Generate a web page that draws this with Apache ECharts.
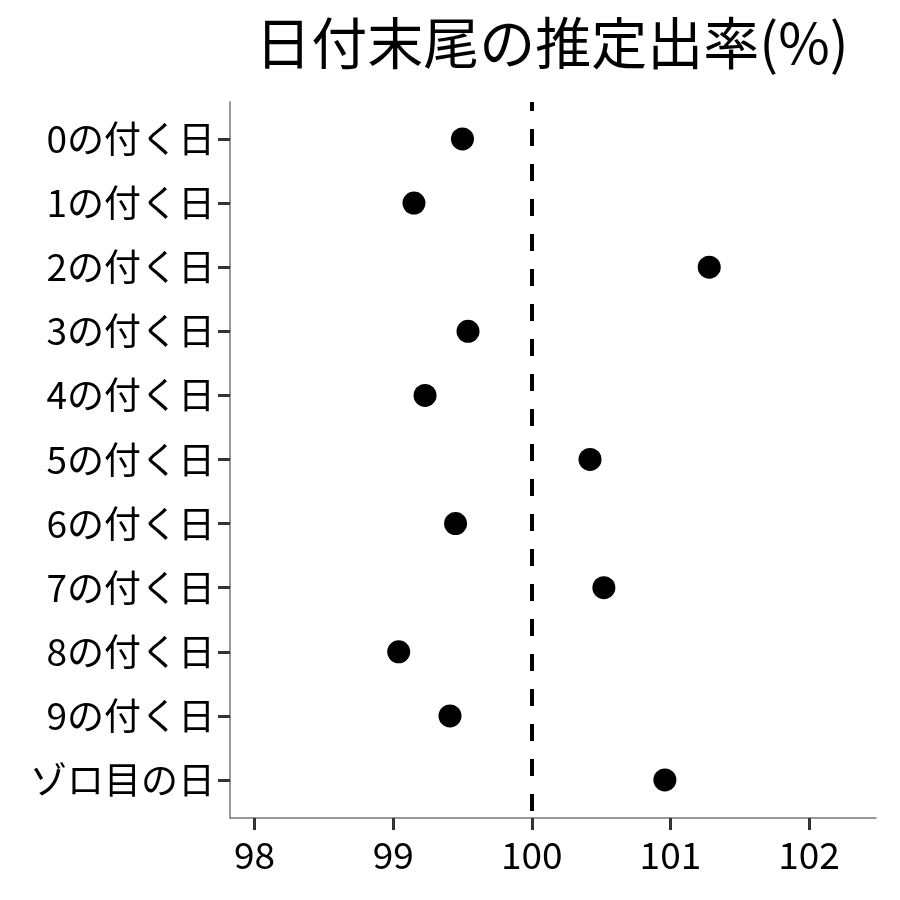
<!DOCTYPE html>
<html>
<head>
<meta charset="utf-8">
<script src="https://cdn.jsdelivr.net/npm/echarts@6/dist/echarts.min.js"></script>
<style>
  html, body { margin: 0; padding: 0; background: #fff; }
  #chart { width: 900px; height: 900px; }
</style>
</head>
<body>
<div id="chart"></div>
<script>
const categories = ["0の付く日", "1の付く日", "2の付く日", "3の付く日", "4の付く日",
  "5の付く日", "6の付く日", "7の付く日", "8の付く日", "9の付く日", "ゾロ目の日"];
const rates = [99.50, 99.15, 101.28, 99.54, 99.23, 100.42, 99.45, 100.52, 99.04, 99.41, 100.96];
const xTicks = [98, 99, 100, 101, 102];
const refValue = 100;

const font = "'Noto Sans CJK JP', 'Noto Sans', sans-serif";
const chart = echarts.init(document.getElementById("chart"));
const yIdx = categories.map((c, i) => i);

chart.setOption({
  animation: false,
  title: {
    text: "日付末尾の推定出率(%)",
    left: 547,
    textAlign: "center",
    top: 10,
    textStyle: { fontFamily: font, fontSize: 56, fontWeight: "normal", color: "#000" },
  },
  grid: { left: 230, right: 24, top: 102, bottom: 82 },
  xAxis: {
    type: "value",
    min: 97.823,
    max: 102.483,
    splitLine: { show: false },
    axisLine: { onZero: false, lineStyle: { color: "#777", width: 1.5 } },
    axisTick: { customValues: xTicks, length: 12, lineStyle: { color: "#333", width: 3 } },
    axisLabel: {
      customValues: xTicks,
      margin: 18,
      fontFamily: font,
      fontSize: 37,
      color: "#000",
    },
  },
  yAxis: {
    type: "value",
    inverse: true,
    min: -0.577,
    max: 10.593,
    splitLine: { show: false },
    axisLine: { onZero: false, lineStyle: { color: "#777", width: 1.5 } },
    axisTick: { customValues: yIdx, length: 12, lineStyle: { color: "#333", width: 3 } },
    axisLabel: {
      customValues: yIdx,
      formatter: (v) => categories[Math.round(v)],
      margin: 15,
      fontFamily: font,
      fontSize: 37,
      color: "#000",
    },
  },
  series: [
    {
      type: "scatter",
      symbol: "circle",
      symbolSize: 23,
      itemStyle: { color: "#000", opacity: 1 },
      data: rates.map((v, i) => [v, i]),
      markLine: {
        silent: true,
        symbol: "none",
        label: { show: false },
        lineStyle: { color: "#000", width: 4, type: [17, 18], dashOffset: 8 },
        data: [{ xAxis: refValue }],
      },
      z: 3,
    },
  ],
});
</script>
</body>
</html>
